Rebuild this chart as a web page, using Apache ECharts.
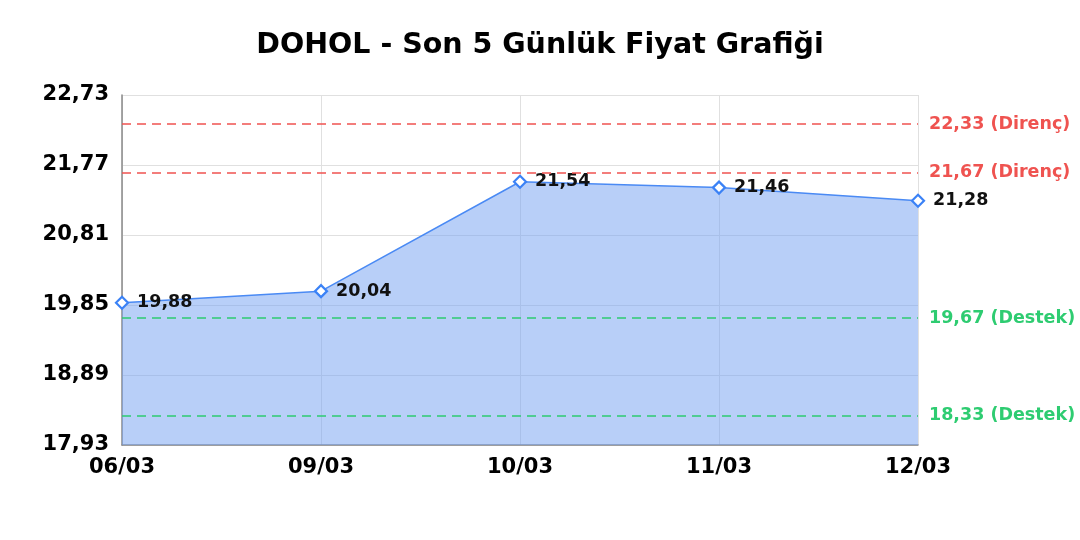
<!DOCTYPE html>
<html><head><meta charset="utf-8">
<script src="https://cdn.jsdelivr.net/npm/echarts@6/dist/echarts.min.js"></script>
<style>html,body{margin:0;padding:0;background:#fff}#c{width:1080px;height:540px}</style>
</head><body><div id="c"></div>
<script>
const categories = ['06/03', '09/03', '10/03', '11/03', '12/03'];
const prices = [19.88, 20.04, 21.54, 21.46, 21.28];
const yTicks = [17.93, 18.89, 19.85, 20.81, 21.77, 22.73];
const resistance = [22.33, 21.67];
const support = [19.67, 18.33];

const fmt = v => v.toFixed(2).replace('.', ',');
const FONT = 'DejaVu Sans';
const chart = echarts.init(document.getElementById('c'));
const markData = [];
resistance.forEach(v => markData.push({yAxis: v, lineStyle: {color: '#ef5350', type: [9, 6], width: 1.5}, label: {color: '#ef5350', formatter: fmt(v) + ' (Direnç)'}}));
support.forEach(v => markData.push({yAxis: v, lineStyle: {color: '#2ecc71', type: [9, 6], width: 1.5}, label: {color: '#2ecc71', formatter: fmt(v) + ' (Destek)'}}));

chart.setOption({
  animation: false,
  textStyle: {fontFamily: FONT},
  title: {text: 'DOHOL - Son 5 Günlük Fiyat Grafiği', left: 'center', top: 26,
    textStyle: {fontFamily: FONT, fontSize: 28.5, fontWeight: 'bold', color: '#000'}},
  grid: {left: 122, right: 162, top: 95, bottom: 95, containLabel: false},
  xAxis: {type: 'category', data: categories, boundaryGap: false,
    axisLine: {lineStyle: {color: '#888', width: 1.5}},
    axisTick: {show: false},
    axisLabel: {fontFamily: FONT, fontSize: 21, fontWeight: 'bold', color: '#000', margin: 12},
    splitLine: {show: true, lineStyle: {color: '#e0e0e0'}}},
  yAxis: {type: 'value', min: yTicks[0], max: yTicks[yTicks.length - 1],
    axisLine: {show: true, lineStyle: {color: '#888', width: 1.5}},
    axisTick: {show: false, customValues: yTicks},
    axisLabel: {customValues: yTicks, formatter: v => fmt(v), fontFamily: FONT, fontSize: 21, fontWeight: 'bold', color: '#000', margin: 13},
    splitLine: {show: true, lineStyle: {color: '#e0e0e0'}}},
  series: [{
    type: 'line', data: prices,
    symbol: 'diamond', symbolSize: 12, showAllSymbol: true,
    itemStyle: {color: '#fff', borderColor: '#3b82f6', borderWidth: 2.2},
    lineStyle: {color: '#4a8af4', width: 1.5},
    areaStyle: {color: 'rgba(113,159,241,0.5)', opacity: 1},
    label: {show: true, position: 'right', distance: 8, formatter: p => fmt(p.value),
      fontFamily: FONT, fontSize: 17.5, fontWeight: 'bold', color: '#111'},
    markLine: {silent: true, symbol: 'none',
      label: {position: 'end', fontFamily: FONT, fontSize: 17.5, fontWeight: 'bold', distance: 11},
      data: markData}
  }]
});
</script></body></html>
